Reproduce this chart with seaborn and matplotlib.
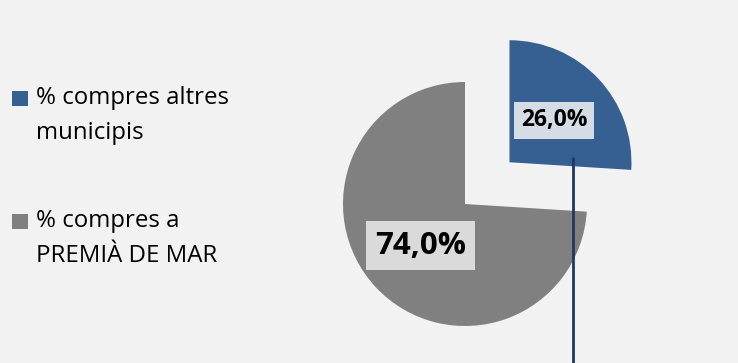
import matplotlib
matplotlib.use("Agg")
import matplotlib.pyplot as plt
from matplotlib.patches import Rectangle
import seaborn as sns

# Purchase share data
categories = ["% compres altres\nmunicipis", "% compres a\nPREMIÀ DE MAR"]
shares = [26.0, 74.0]
colors = ["#366092", "#808080"]

sns.set_theme(style="white")
plt.rcParams["font.family"] = ["Open Sans", "DejaVu Sans"]

W, H = 738, 363
BG = "#f2f2f2"
fig = plt.figure(figsize=(W / 100, H / 100), dpi=100, facecolor=BG)
ax = fig.add_axes([0, 0, 1, 1])
ax.set_facecolor(BG)

radius = 122
center = (465, 159)

def fmt(p):
    return f"{p:.1f}%".replace(".", ",")

wedges, texts, autotexts = ax.pie(
    shares,
    colors=colors,
    startangle=90,
    counterclock=False,
    radius=radius,
    center=center,
    explode=[61, 0],
    autopct=fmt,
    pctdistance=0.5,
    wedgeprops=dict(linewidth=0),
    frame=True,
)
ax.set_xlim(0, W)
ax.set_ylim(0, H)
ax.set_aspect("equal")
ax.axis("off")

for t, size, box, pad in zip(autotexts, [16.5, 22.5], ["#d6dce5", "#dadada"], [0.3, 0.3]):
    t.set_fontsize(size)
    t.set_fontweight("bold")
    t.set_color("black")
    t.set_bbox(dict(facecolor=box, edgecolor="none", boxstyle=f"square,pad={pad}"))

# leader line hanging from the small label
lx, ly = autotexts[0].get_position()
ax.plot([lx + 19, lx + 19], [ly - 38, -5], color="#1f3864", lw=2,
        clip_on=False, zorder=1)

# legend: coloured square followed by a two-line label
leg_top = [272, 149]
for label, col, top in zip(categories, colors, leg_top):
    ax.add_patch(Rectangle((12, top - 15), 15.5, 15, facecolor=col, edgecolor="none"))
    for i, line in enumerate(label.split("\n")):
        ax.text(36, top - 13 - 35 * i, line, fontsize=17.3, color="black",
                ha="left", va="baseline")

fig.savefig("out.png", dpi=100, facecolor=BG)
